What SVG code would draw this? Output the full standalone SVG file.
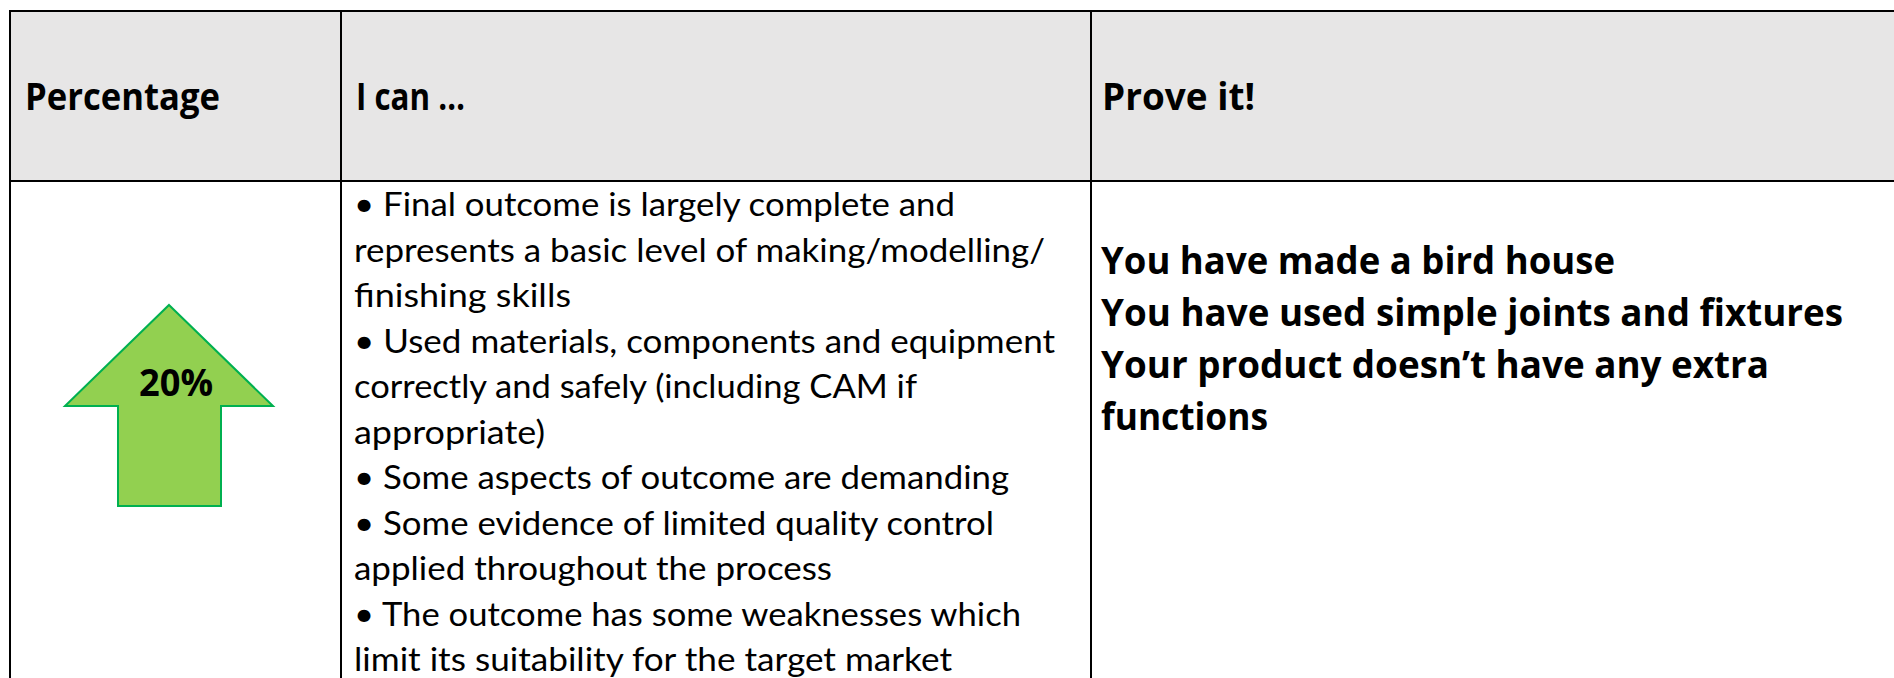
<svg xmlns="http://www.w3.org/2000/svg" width="1894" height="678" viewBox="0 0 1894 678">
<style>
.hd{font-family:"Open Sans","DejaVu Sans",sans-serif;font-weight:700;font-size:37.33px;fill:#000}
.bd{font-family:Lato,"Liberation Sans",sans-serif;font-size:33.5px;fill:#000}
.gl{stroke:#000;stroke-width:2;fill:none}
</style>
<rect width="1894" height="678" fill="#fff"/>
<g id="header">
<rect x="10" y="11" width="1884" height="170" fill="#E7E6E6"/>
</g>
<g id="cell-percentage-head">
<text class="hd" x="25" y="110" textLength="195" lengthAdjust="spacingAndGlyphs">Percentage</text>
</g>
<g id="cell-ican-head">
<text class="hd" x="356" y="110" textLength="109" lengthAdjust="spacingAndGlyphs">I can …</text>
</g>
<g id="cell-prove-head">
<text class="hd" x="1102" y="110" textLength="153" lengthAdjust="spacingAndGlyphs">Prove it!</text>
</g>
<g id="cell-arrow">
<polygon points="169,305 273,406 221,406 221,506 118,506 118,406 65,406" fill="#92D050" stroke="#00B050" stroke-width="2"/>
<text class="hd" x="139" y="396" textLength="74" lengthAdjust="spacingAndGlyphs">20%</text>
</g>
<g id="cell-ican-body" class="bd">
<text x="354" y="216" textLength="601" lengthAdjust="spacingAndGlyphs">• Final outcome is largely complete and</text>
<text x="354" y="261.5" textLength="691" lengthAdjust="spacingAndGlyphs">represents a basic level of making/modelling/</text>
<text x="354" y="307" textLength="217" lengthAdjust="spacingAndGlyphs">finishing skills</text>
<text x="354" y="352.5" textLength="701" lengthAdjust="spacingAndGlyphs">• Used materials, components and equipment</text>
<text x="354" y="398" textLength="563" lengthAdjust="spacingAndGlyphs">correctly and safely (including CAM if</text>
<text x="354" y="443.5" textLength="191" lengthAdjust="spacingAndGlyphs">appropriate)</text>
<text x="354" y="489" textLength="655" lengthAdjust="spacingAndGlyphs">• Some aspects of outcome are demanding</text>
<text x="354" y="534.5" textLength="640" lengthAdjust="spacingAndGlyphs">• Some evidence of limited quality control</text>
<text x="354" y="580" textLength="478" lengthAdjust="spacingAndGlyphs">applied throughout the process</text>
<text x="354" y="625.5" textLength="667" lengthAdjust="spacingAndGlyphs">• The outcome has some weaknesses which</text>
<text x="354" y="671" textLength="598" lengthAdjust="spacingAndGlyphs">limit its suitability for the target market</text>
</g>
<g id="cell-prove-body" class="hd">
<text x="1101" y="274" textLength="514" lengthAdjust="spacingAndGlyphs">You have made a bird house</text>
<text x="1101" y="326" textLength="742" lengthAdjust="spacingAndGlyphs">You have used simple joints and fixtures</text>
<text x="1101" y="378" textLength="668" lengthAdjust="spacingAndGlyphs">Your product doesn’t have any extra</text>
<text x="1101" y="430" textLength="167" lengthAdjust="spacingAndGlyphs">functions</text>
</g>
<g id="connectors" class="gl">
<line x1="10" y1="11" x2="1894" y2="11"/>
<line x1="10" y1="181" x2="1894" y2="181"/>
<line x1="10" y1="10" x2="10" y2="678"/>
<line x1="341" y1="11" x2="341" y2="678"/>
<line x1="1091" y1="11" x2="1091" y2="678"/>
</g>
</svg>
